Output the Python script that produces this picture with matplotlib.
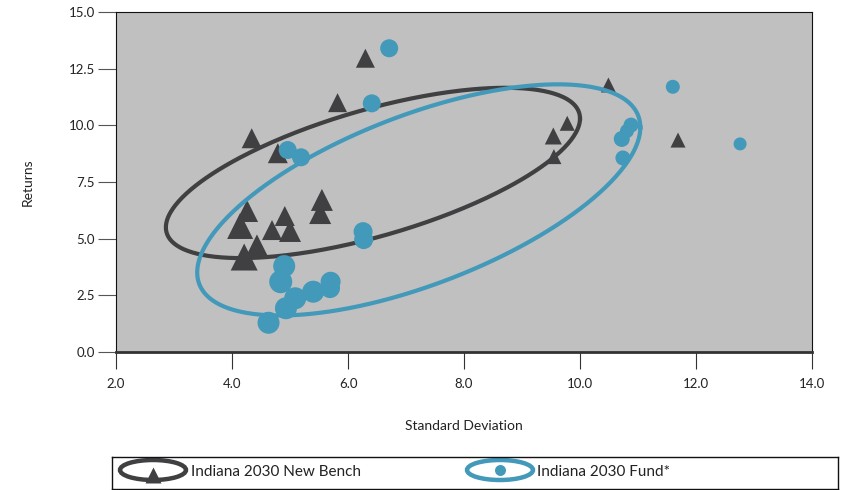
import numpy as np
import matplotlib
matplotlib.use("Agg")
import matplotlib.pyplot as plt
from matplotlib.patches import Ellipse

# --- data (standard deviation, return, marker width in px) ---
bench_sd = [6.30, 5.82, 4.34, 4.79, 10.49, 9.78, 9.54, 9.55, 11.69,
            5.55, 5.52, 4.26, 4.14, 4.91, 5.00, 4.69, 4.43, 4.21]
bench_ret = [12.96, 11.00, 9.43, 8.77, 11.78, 10.09, 9.53, 8.62, 9.35,
             6.71, 6.13, 6.22, 5.56, 6.00, 5.34, 5.38, 4.68, 4.19]
bench_size = [19, 19, 20, 20, 15, 15, 17, 15, 15,
              22, 22, 22, 26, 20, 22, 20, 23, 27]

fund_sd = [6.71, 6.41, 4.96, 5.19, 11.60, 12.76, 10.88, 10.81, 10.72, 10.74,
           6.26, 6.27, 4.90, 4.84, 5.09, 4.93, 5.40, 5.70, 5.69, 4.63]
fund_ret = [13.40, 10.97, 8.91, 8.59, 11.70, 9.18, 10.01, 9.75, 9.40, 8.56,
            5.31, 4.96, 3.79, 3.10, 2.37, 1.93, 2.66, 3.10, 2.82, 1.29]
fund_size = [18, 18, 18, 18, 14, 13, 15, 14, 16, 15,
             19, 19, 22, 23, 22, 22, 22, 20, 20, 22]

# ellipses: centre and two conjugate semi-axes, in data units
bench_ell = {"c": (6.43, 7.90), "u": (3.57, 2.40), "v": (0.0, 2.89)}
fund_ell = {"c": (7.22, 6.71), "u": (3.82, 3.20), "v": (0.0, 3.97)}

DARK = "#404042"
TEAL = "#4299b9"
FONT = "Lato"


def ellipse_xy(e):
    t = np.linspace(0, 2 * np.pi, 400)
    x = e["c"][0] + e["u"][0] * np.cos(t) + e["v"][0] * np.sin(t)
    y = e["c"][1] + e["u"][1] * np.cos(t) + e["v"][1] * np.sin(t)
    return x, y


def px_to_s(widths):
    return [(w * 0.72) ** 2 for w in widths]


fig = plt.figure(figsize=(8.49, 4.90), dpi=100)
ax = fig.add_axes([116 / 849, 1 - 352 / 490, (812 - 116) / 849, (352 - 12) / 490])
ax.set_facecolor("#c0c0c0")

x, y = ellipse_xy(bench_ell)
ax.plot(x, y, color=DARK, lw=3, zorder=2)
ax.scatter(bench_sd, bench_ret, s=px_to_s(bench_size), marker="^", color=DARK,
           linewidths=0, zorder=3)
x, y = ellipse_xy(fund_ell)
ax.plot(x, y, color=TEAL, lw=3, zorder=4)
ax.scatter(fund_sd, fund_ret, s=px_to_s(fund_size), marker="o", color=TEAL,
           linewidths=0, zorder=5)

ax.set_xlim(2, 14)
ax.set_ylim(0, 15)
ax.set_xticks(np.arange(2, 14.1, 2))
ax.set_yticks(np.arange(0, 15.1, 2.5))
ax.set_xticklabels([f"{v:.1f}" for v in np.arange(2, 14.1, 2)])
ax.set_yticklabels([f"{v:.1f}" for v in np.arange(0, 15.1, 2.5)])
ax.tick_params(axis="x", direction="out", length=12, width=0.8, color="#333333",
               pad=7, labelsize=9.5, labelcolor="#222222")
ax.tick_params(axis="y", direction="out", length=13, width=0.8, color="#555555",
               pad=2, labelsize=9.5, labelcolor="#222222")
for lab in ax.get_xticklabels() + ax.get_yticklabels():
    lab.set_fontfamily(FONT)
for side in ["left", "top", "right"]:
    ax.spines[side].set_linewidth(0.8)
    ax.spines[side].set_color("#111111")
ax.spines["bottom"].set_linewidth(2)
ax.spines["bottom"].set_color("#333333")

fig.text(464 / 849, 1 - 426 / 490, "Standard Deviation", ha="center", va="center",
         fontsize=10, family=FONT, color="#222222")
fig.text(28 / 849, 1 - 182 / 490, "Returns", ha="center", va="center", rotation=90,
         fontsize=10, family=FONT, color="#222222")

# --- legend box drawn by hand ---
lx0, lx1, ly0, ly1 = 112, 838, 457, 489
lax = fig.add_axes([lx0 / 849, 1 - ly1 / 490, (lx1 - lx0) / 849, (ly1 - ly0) / 490])
lax.set_xlim(lx0, lx1)
lax.set_ylim(ly1, ly0)
lax.set_xticks([])
lax.set_yticks([])
for sp in lax.spines.values():
    sp.set_linewidth(1)
    sp.set_color("#111111")

lax.add_patch(Ellipse((153, 470), 66, 20, fill=False, ec=DARK, lw=3.2))
lax.scatter([153], [475], s=(16 * 0.72) ** 2, marker="^", color=DARK, linewidths=0)
lax.text(191, 472, "Indiana 2030 New Bench", va="center", ha="left",
         fontsize=11, family=FONT, color="#222222")
lax.add_patch(Ellipse((500, 470), 66, 20, fill=False, ec=TEAL, lw=3.2))
lax.scatter([500], [470], s=(11 * 0.72) ** 2, marker="o", color=TEAL, linewidths=0)
lax.text(537, 472, "Indiana 2030 Fund*", va="center", ha="left",
         fontsize=11, family=FONT, color="#222222")

fig.savefig("out.png", dpi=100)
